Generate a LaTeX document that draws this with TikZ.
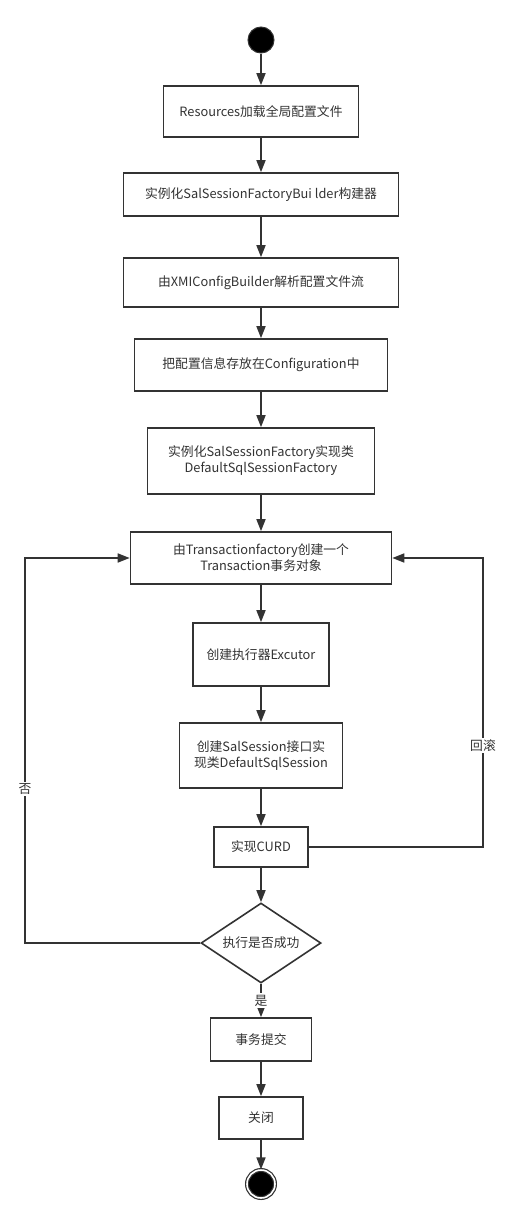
\documentclass[tikz,border=0pt]{standalone}
\usepackage{fontspec}
\usepackage{xcolor}
\usepackage{tikz}
\usetikzlibrary{arrows.meta, positioning, shapes.geometric}
\newfontfamily\cjk{Noto Sans CJK SC}
\definecolor{flowInk}{HTML}{333333}

\begin{document}
\begin{tikzpicture}[
  x=1pt, y=-1pt,
  every node/.style={font=\cjk\fontsize{12.8}{16}\selectfont, align=center,
                     text=flowInk, inner sep=2pt},
  stepbox/.style={draw=flowInk, line width=1.6pt, fill=white,
                  rectangle},
  decision/.style={draw=flowInk, line width=1.6pt, fill=white,
                   diamond, aspect=1.5, inner sep=0pt,
                   minimum width=120pt, minimum height=80pt},
  startdot/.style={circle, fill=black, draw=flowInk, line width=1pt,
                   minimum size=26pt, inner sep=0pt},
  enddot/.style={circle, fill=black, draw=flowInk, line width=1.2pt,
                 double=white, double distance=1.6pt,
                 minimum size=28pt, inner sep=0pt},
  arrow/.style={-{Triangle[length=12pt, width=9pt]}, draw=flowInk,
                line width=1.6pt},
  label/.style={fill=white, inner sep=1.5pt},
]
\useasboundingbox (0,0) rectangle (511,1226);

% --- Main column: loading the configuration ------------------------
\node[startdot] (start) at (261, 40) {};
\node[stepbox, minimum width=195pt, minimum height=51pt]
  (resources) at (261, 111.5) {Resources加载全局配置文件};
\node[stepbox, minimum width=275pt, minimum height=43pt]
  (builder) at (261, 194.5) {实例化SalSessionFactoryBui lder构建器};
\node[stepbox, minimum width=275pt, minimum height=49pt]
  (parser) at (261, 282.5) {由XMIConfigBuilder解析配置文件流};
\node[stepbox, minimum width=253pt, minimum height=52pt]
  (config) at (261, 365) {把配置信息存放在Configuration中};
\node[stepbox, minimum width=227pt, minimum height=66pt]
  (factory) at (261, 461)
  {实例化SalSessionFactory实现类\\DefaultSqlSessionFactory};

% --- Transaction block ---------------------------------------------
\node[stepbox, minimum width=261pt, minimum height=52pt]
  (transaction) at (261, 558)
  {由Transactionfactory创建一个\\Transaction事务对象};
\node[stepbox, minimum width=136pt, minimum height=63pt]
  (executor) at (261, 654.5) {创建执行器Excutor};
\node[stepbox, minimum width=163pt, minimum height=65pt]
  (session) at (261, 755.5) {创建SalSession接口实\\现类DefaultSqlSession};
\node[stepbox, minimum width=94pt, minimum height=40pt]
  (curd) at (261, 847) {实现CURD};
\node[decision] (check) at (261, 943) {执行是否成功};

% --- Tail: commit and close ----------------------------------------
\node[stepbox, minimum width=101pt, minimum height=43pt]
  (commit) at (261, 1039.5) {事务提交};
\node[stepbox, minimum width=84pt, minimum height=42pt]
  (close) at (261, 1118) {关闭};
\node[enddot] (finish) at (261, 1184) {};

% Straight arrows down the column.
\draw[arrow] (start)       -- (resources);
\draw[arrow] (resources)   -- (builder);
\draw[arrow] (builder)     -- (parser);
\draw[arrow] (parser)      -- (config);
\draw[arrow] (config)      -- (factory);
\draw[arrow] (factory)     -- (transaction);
\draw[arrow] (transaction) -- (executor);
\draw[arrow] (executor)    -- (session);
\draw[arrow] (session)     -- (curd);
\draw[arrow] (curd)        -- (check);
\draw[arrow] (check) -- node[label, pos=0.5] {是} (commit);
\draw[arrow] (commit)      -- (close);
\draw[arrow] (close)       -- (finish);

% --- Loops back to the transaction ---------------------------------
\coordinate (failTurn) at (25, 943);
\coordinate (rollTurn) at (483, 847);
\draw[arrow] (check.west) -- (failTurn)
  |- node[label, pos=0.2] {否} (transaction.west);
\draw[arrow] (curd.east) -- (rollTurn)
  |- node[label, pos=0.175] {回滚} (transaction.east);
\end{tikzpicture}
\end{document}
